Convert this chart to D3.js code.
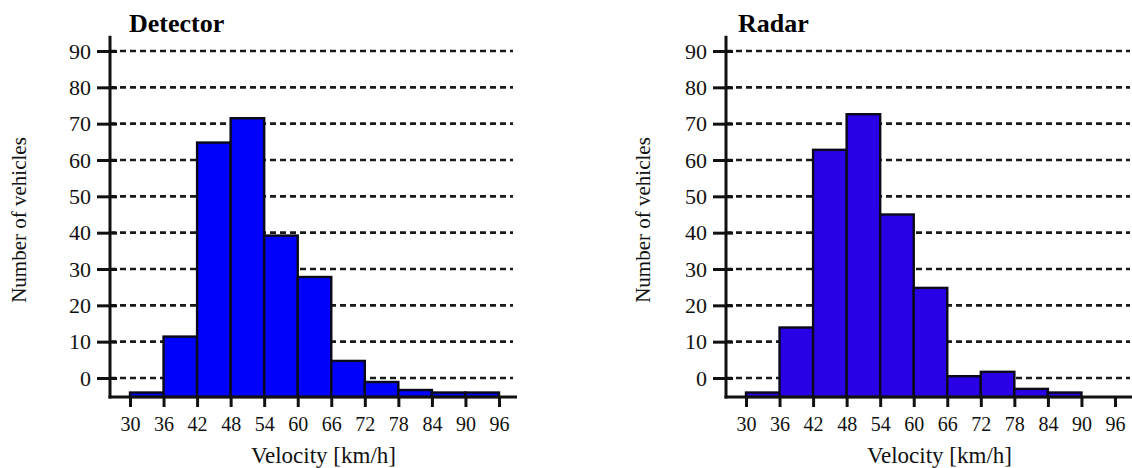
<!DOCTYPE html>
<html>
<head>
<meta charset="utf-8">
<script src="https://cdn.jsdelivr.net/npm/d3@7"></script>
<style>
  body { margin: 0; background: #fff; }
</style>
</head>
<body>
<div id="chart"></div>
<script>
const width = 1132, height = 468;
const serif = "'Liberation Serif', 'Times New Roman', Times, serif";

// bin edges and tick labels
const binEdges = [30, 36, 42, 48, 54, 60, 66, 72, 78, 84, 90, 96];
const yTicks = [0, 10, 20, 30, 40, 50, 60, 70, 80, 90];

// bar tops, read in the units of the y tick labels (null = empty bin)
const detectorValues = [-4, 11.4, 64.8, 71.5, 39.2, 27.8, 4.7, -1.1, -3.3, -4, -4];
const radarValues    = [-4, 13.9, 62.8, 72.6, 45, 24.8, 0.5, 1.7, -3, -4, null];

const titles = ["Detector", "Radar"];
const barColors = ["#0000fb", "#2a00e6"];

const svg = d3.select("#chart").append("svg")
    .attr("width", width)
    .attr("height", height)
    .style("font-family", serif);

function drawPanel(opts) {
  let g = svg.append("g");

  let x = d3.scaleLinear()
    .domain([30, 96])
    .range([opts.left + 20, opts.left + 389]);

  let y = d3.scaleLinear()
    .domain([0, 90])
    .range([378, 51]);

  const baseValue = -5.23;   // where the x axis line sits
  const topValue = 94.2;

  // dashed grid lines
  g.append("g").selectAll("line")
    .data(yTicks)
    .join("line")
      .attr("x1", opts.left)
      .attr("x2", opts.gridEnd)
      .attr("y1", d => y(d))
      .attr("y2", d => y(d))
      .attr("stroke", "#1a1a1a")
      .attr("stroke-width", 2.6)
      .attr("stroke-dasharray", "6,4");

  // bars
  let bins = opts.values.map((v, i) => ({lo: binEdges[i], hi: binEdges[i + 1], v: v}))
    .filter(d => d.v !== null);

  g.append("g").selectAll("rect")
    .data(bins)
    .join("rect")
      .attr("x", d => x(d.lo))
      .attr("width", d => x(d.hi) - x(d.lo))
      .attr("y", d => y(d.v))
      .attr("height", d => y(baseValue) - y(d.v))
      .attr("fill", opts.color)
      .attr("stroke", "#0a0a1a")
      .attr("stroke-width", 2.4);

  // x axis
  let xAxis = g.append("g")
    .attr("transform", `translate(0, ${y(baseValue)})`)
    .call(d3.axisBottom(x).tickValues(binEdges).tickSize(10).tickPadding(10).tickFormat(d3.format("d")));
  xAxis.select(".domain").remove();
  xAxis.selectAll(".tick line").attr("stroke", "#111").attr("stroke-width", 3);
  xAxis.selectAll(".tick text")
    .style("font-family", serif).style("font-size", "20px").style("fill", "#111");

  g.append("line")
    .attr("x1", opts.left - 1.5)
    .attr("x2", opts.axisEnd)
    .attr("y1", y(baseValue))
    .attr("y2", y(baseValue))
    .attr("stroke", "#111")
    .attr("stroke-width", 3);

  // y axis
  let yAxis = g.append("g")
    .attr("transform", `translate(${opts.left}, 0)`)
    .call(d3.axisLeft(y).tickValues(yTicks).tickSize(13).tickPadding(6));
  yAxis.select(".domain").remove();
  yAxis.selectAll(".tick line").attr("x1", 7).attr("stroke", "#111").attr("stroke-width", 3);
  yAxis.selectAll(".tick text")
    .style("font-family", serif).style("font-size", "22px").style("fill", "#111");

  g.append("line")
    .attr("x1", opts.left)
    .attr("x2", opts.left)
    .attr("y1", y(topValue))
    .attr("y2", y(baseValue) + 1.5)
    .attr("stroke", "#111")
    .attr("stroke-width", 3);

  // titles and labels
  g.append("text")
    .attr("x", opts.titleX)
    .attr("y", 32)
    .style("font-family", serif)
    .style("font-size", "26px")
    .style("font-weight", "bold")
    .style("fill", "#000")
    .text(opts.title);

  g.append("text")
    .attr("x", x(64.6))
    .attr("y", 463)
    .attr("text-anchor", "middle")
    .style("font-family", serif)
    .style("font-size", "23px")
    .style("fill", "#111")
    .text("Velocity [km/h]");

  g.append("text")
    .attr("transform", `translate(${opts.ylabelX}, 220) rotate(-90)`)
    .attr("text-anchor", "middle")
    .style("font-family", serif)
    .style("font-size", "21px")
    .style("fill", "#111")
    .text("Number of vehicles");
}

drawPanel({left: 110, gridEnd: 513, axisEnd: 517, titleX: 129, ylabelX: 26,
           title: titles[0], values: detectorValues, color: barColors[0]});
drawPanel({left: 726, gridEnd: 1130, axisEnd: 1132, titleX: 738, ylabelX: 650,
           title: titles[1], values: radarValues, color: barColors[1]});
</script>
</body>
</html>
